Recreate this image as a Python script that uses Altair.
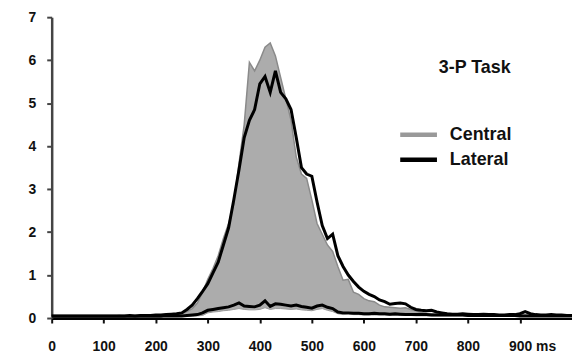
import altair as alt
import pandas as pd

ms = list(range(0, 1001, 10))

central = [
    0.05, 0.05, 0.04, 0.05, 0.05, 0.05, 0.04, 0.05, 0.05, 0.05,
    0.05, 0.05, 0.05, 0.06, 0.05, 0.05, 0.05, 0.05, 0.06, 0.05,
    0.06, 0.06, 0.07, 0.07, 0.08, 0.10, 0.15, 0.22, 0.35, 0.60,
    0.90, 1.15, 1.45, 1.85, 2.20, 2.65, 3.60, 4.50, 5.95, 5.75,
    6.00, 6.30, 6.40, 6.10, 5.60, 5.10, 4.60, 3.75, 3.35, 3.25,
    2.75, 2.20, 1.95, 1.70, 1.55, 1.20, 0.88, 0.90, 0.60, 0.55,
    0.45, 0.40, 0.38, 0.30, 0.26, 0.25, 0.24, 0.23, 0.24, 0.20,
    0.17, 0.13, 0.11, 0.10, 0.09, 0.08, 0.07, 0.07, 0.07, 0.07,
    0.06, 0.06, 0.07, 0.06, 0.06, 0.06, 0.07, 0.06, 0.06, 0.06,
    0.06, 0.07, 0.06, 0.06, 0.06, 0.05, 0.05, 0.05, 0.05, 0.05, 0.05,
]

lateral = [
    0.05, 0.05, 0.05, 0.05, 0.05, 0.05, 0.05, 0.05, 0.05, 0.05,
    0.05, 0.05, 0.05, 0.05, 0.05, 0.06, 0.05, 0.06, 0.06, 0.06,
    0.07, 0.07, 0.08, 0.09, 0.10, 0.12, 0.20, 0.30, 0.45, 0.62,
    0.80, 1.05, 1.30, 1.70, 2.10, 2.75, 3.45, 4.20, 4.60, 4.85,
    5.45, 5.62, 5.25, 5.75, 5.25, 5.10, 4.85, 4.20, 3.50, 3.35,
    3.30, 2.70, 2.15, 1.85, 1.95, 1.45, 1.20, 1.00, 0.85, 0.72,
    0.62, 0.55, 0.50, 0.42, 0.38, 0.32, 0.34, 0.35, 0.33, 0.25,
    0.20, 0.18, 0.17, 0.18, 0.14, 0.12, 0.10, 0.09, 0.09, 0.10,
    0.09, 0.08, 0.08, 0.09, 0.08, 0.08, 0.07, 0.07, 0.08, 0.08,
    0.10, 0.15, 0.10, 0.08, 0.07, 0.07, 0.08, 0.07, 0.07, 0.06, 0.06,
]

central_low = [
    0.03, 0.03, 0.03, 0.03, 0.03, 0.03, 0.03, 0.03, 0.03, 0.03,
    0.03, 0.03, 0.03, 0.03, 0.03, 0.03, 0.03, 0.03, 0.03, 0.03,
    0.03, 0.03, 0.03, 0.03, 0.03, 0.04, 0.04, 0.04, 0.05, 0.06,
    0.12, 0.14, 0.15, 0.17, 0.18, 0.20, 0.22, 0.20, 0.19, 0.19,
    0.20, 0.24, 0.20, 0.22, 0.22, 0.21, 0.20, 0.21, 0.19, 0.18,
    0.17, 0.20, 0.22, 0.18, 0.15, 0.10, 0.08, 0.09, 0.08, 0.08,
    0.07, 0.07, 0.07, 0.07, 0.07, 0.06, 0.06, 0.06, 0.06, 0.06,
    0.05, 0.05, 0.05, 0.05, 0.05, 0.05, 0.05, 0.05, 0.05, 0.05,
    0.04, 0.04, 0.04, 0.04, 0.04, 0.04, 0.04, 0.04, 0.04, 0.04,
    0.04, 0.04, 0.04, 0.04, 0.04, 0.04, 0.04, 0.04, 0.04, 0.04, 0.04,
]

lateral_low = [
    0.04, 0.04, 0.04, 0.04, 0.04, 0.04, 0.04, 0.04, 0.04, 0.04,
    0.04, 0.04, 0.04, 0.04, 0.04, 0.04, 0.04, 0.04, 0.04, 0.04,
    0.04, 0.04, 0.05, 0.05, 0.05, 0.05, 0.06, 0.07, 0.08, 0.12,
    0.18, 0.20, 0.22, 0.24, 0.26, 0.30, 0.35, 0.28, 0.27, 0.26,
    0.30, 0.40, 0.27, 0.33, 0.32, 0.30, 0.28, 0.30, 0.27, 0.25,
    0.23, 0.28, 0.30, 0.25, 0.22, 0.14, 0.12, 0.12, 0.11, 0.11,
    0.10, 0.10, 0.11, 0.10, 0.10, 0.09, 0.10, 0.09, 0.08, 0.08,
    0.08, 0.08, 0.08, 0.07, 0.07, 0.07, 0.07, 0.07, 0.07, 0.07,
    0.06, 0.06, 0.06, 0.06, 0.06, 0.06, 0.06, 0.06, 0.06, 0.06,
    0.05, 0.05, 0.05, 0.05, 0.05, 0.05, 0.05, 0.05, 0.05, 0.05, 0.05,
]

x_ticks = [0, 100, 200, 300, 400, 500, 600, 700, 800, 900]
y_ticks = [0, 1, 2, 3, 4, 5, 6, 7]
legend_names = ["Central", "Lateral"]
legend_colors = ["#999999", "#000000"]
panel_title = "3-P Task"

df = pd.DataFrame({
    "ms": ms,
    "central": central,
    "lateral": lateral,
    "central_low": central_low,
    "lateral_low": lateral_low,
})

FONT = "Liberation Sans"

xscale = alt.Scale(domain=[0, 1000], nice=False, zero=True)
yscale = alt.Scale(domain=[0, 7], nice=False)

x_axis = alt.Axis(
    values=x_ticks,
    title=None,
    grid=False,
    labelExpr="datum.value == 900 ? '900 ms' : datum.label",
    labelAlign={"condition": {"test": "datum.value == 900", "value": "left"}, "value": "center"},
    labelOffset={"condition": {"test": "datum.value == 900", "value": -11.5}, "value": 0},
    labelFont=FONT, labelFontSize=14, labelFontWeight="bold", labelColor="#111111",
    labelPadding=17,
    domainColor="#000000", domainWidth=3,
    tickColor="#111111", tickWidth=2, tickSize=5,
)
y_axis = alt.Axis(
    values=y_ticks,
    title=None,
    grid=False,
    labelFont=FONT, labelFontSize=14, labelFontWeight="bold", labelColor="#111111",
    labelPadding=11,
    domainColor="#444444", domainWidth=2.5,
    tickColor="#444444", tickWidth=2, tickSize=5,
)

base = alt.Chart(df)
X = alt.X("ms:Q", scale=xscale, axis=x_axis)


def Y(field):
    return alt.Y(field + ":Q", scale=yscale, axis=y_axis)


area_central = base.mark_area(
    color="#acacac", opacity=1, line={"color": "#8a8a8a", "strokeWidth": 1.5}
).encode(x=X, y=Y("central"))

area_low = base.mark_area(
    color="#ffffff", opacity=1, line={"color": "#999999", "strokeWidth": 1}
).encode(x=X, y=Y("central_low"))

line_lat = base.mark_line(color="#000000", strokeWidth=3).encode(x=X, y=Y("lateral"))
line_lat_low = base.mark_line(color="#000000", strokeWidth=3).encode(x=X, y=Y("lateral_low"))

title_text = alt.Chart(pd.DataFrame({"t": [panel_title]})).mark_text(
    font=FONT, fontSize=18, fontWeight="bold", color="#111111", align="center", baseline="middle"
).encode(text="t:N", x=alt.value(426), y=alt.value(51.5))

leg_layers = []
for i, (name, col) in enumerate(zip(legend_names, legend_colors)):
    yy = 118.5 + 25 * i
    leg_layers.append(
        alt.Chart(pd.DataFrame({"n": [name]})).mark_rule(color=col, strokeWidth=4.5).encode(
            x=alt.value(351), x2=alt.value(388), y=alt.value(yy)
        )
    )
    leg_layers.append(
        alt.Chart(pd.DataFrame({"n": [name]})).mark_text(
            font=FONT, fontSize=18, fontWeight="bold", color="#111111", align="left", baseline="middle"
        ).encode(text="n:N", x=alt.value(401), y=alt.value(yy))
    )

chart = alt.layer(
    area_central, area_low, line_lat, line_lat_low, title_text, *leg_layers
).properties(
    width=524, height=303,
    autosize=alt.AutoSizeParams(type="none"),
    padding={"left": 44, "top": 8, "right": 0, "bottom": 38},
    background="#ffffff",
).configure_view(stroke=None)

chart.save("out.html", embed_options={"renderer": "svg", "actions": False})
